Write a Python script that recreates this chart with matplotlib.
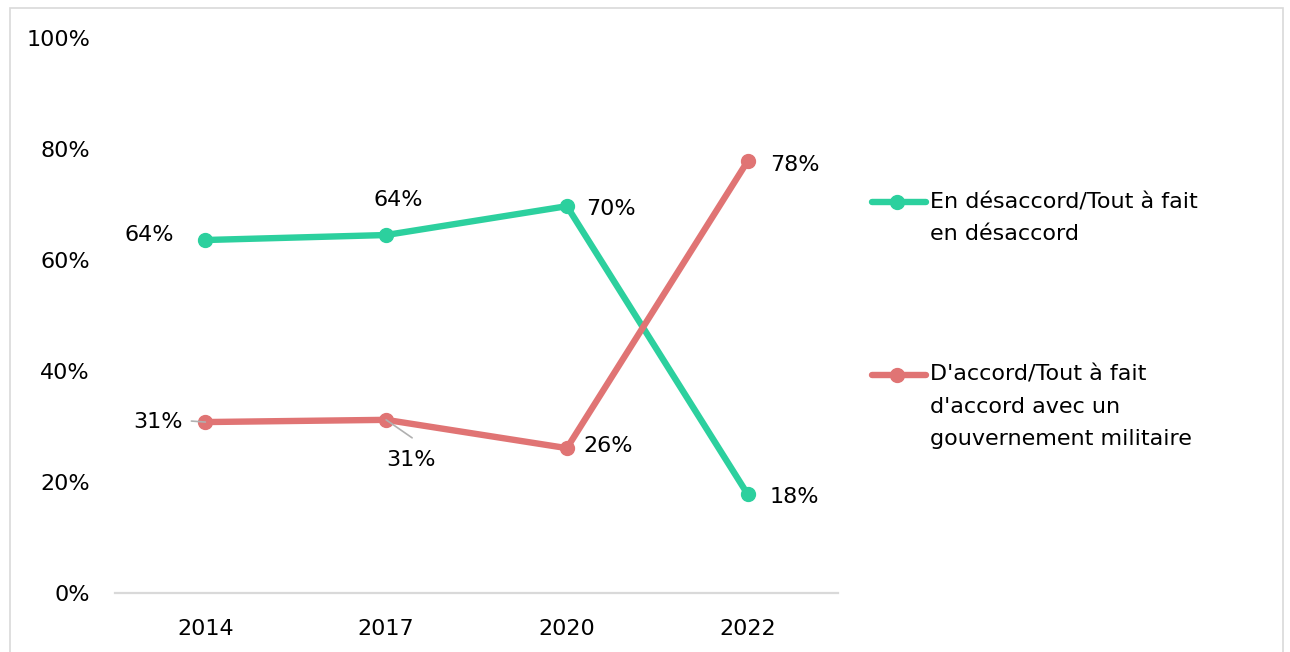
import matplotlib
matplotlib.use("Agg")
import matplotlib.pyplot as plt
from matplotlib.lines import Line2D
from matplotlib.patches import Rectangle

years = ["2014", "2017", "2020", "2022"]
desaccord = [63.6, 64.5, 69.7, 17.8]
accord = [30.8, 31.2, 26.1, 77.8]
desaccord_labels = ["64%", "64%", "70%", "18%"]
accord_labels = ["31%", "31%", "26%", "78%"]
legend_labels = ["En désaccord/Tout à fait\nen désaccord",
                 "D'accord/Tout à fait\nd'accord avec un\ngouvernement militaire"]

green = "#2cd09e"
red = "#e07474"
plt.rcParams['font.family'] = ['DejaVu Sans']

fig = plt.figure(figsize=(12.9, 6.52), dpi=100)
ax = fig.add_axes([115 / 1290, 1 - 593 / 652, 723 / 1290, 555 / 652])

x = list(range(len(years)))
ax.plot(x, desaccord, color=green, lw=4.6, marker="o", ms=10, solid_capstyle="round")
ax.plot(x, accord, color=red, lw=4.6, marker="o", ms=10, solid_capstyle="round")

ax.set_xlim(-0.5, 3.5)
ax.set_ylim(0, 100)
ax.set_yticks([0, 20, 40, 60, 80, 100])
ax.set_yticklabels([f"{v}%" for v in [0, 20, 40, 60, 80, 100]])
ax.set_xticks(x)
ax.set_xticklabels(years)
ax.tick_params(axis="both", length=0, labelsize=16, colors="black")
ax.tick_params(axis="y", pad=18)
ax.tick_params(axis="x", pad=19)
for s in ["top", "right", "left"]:
    ax.spines[s].set_visible(False)
ax.spines["bottom"].set_color("#d9d9d9")
ax.spines["bottom"].set_linewidth(1.6)

# data labels (offsets in pixels)
g_off = [(-56, 5), (12, 35), (44, -3), (47, -3)]
r_off = [(-47, 0), (25, -40), (41, 2), (47, -4)]
for i in x:
    ax.annotate(desaccord_labels[i], (i, desaccord[i]), xytext=g_off[i],
                textcoords="offset pixels", ha="center", va="center", fontsize=16)
    ax.annotate(accord_labels[i], (i, accord[i]), xytext=r_off[i],
                textcoords="offset pixels", ha="center", va="center", fontsize=16)

# leader lines for the two red labels near the points
ax.annotate("", (0, accord[0]), xytext=(-14, 1), textcoords="offset pixels",
            arrowprops=dict(arrowstyle="-", color="#b0b0b0", lw=1.2, shrinkA=0, shrinkB=0))
ax.annotate("", (1, accord[1]), xytext=(26, -18), textcoords="offset pixels",
            arrowprops=dict(arrowstyle="-", color="#b0b0b0", lw=1.2, shrinkA=0, shrinkB=0))

# legend drawn by hand
for color, label, yl in [(green, legend_labels[0], 202), (red, legend_labels[1], 375)]:
    yf = 1 - yl / 652
    fig.add_artist(Line2D([872 / 1290, 926 / 1290], [yf, yf], color=color, lw=4.6,
                          solid_capstyle="round", transform=fig.transFigure))
    fig.add_artist(Line2D([897 / 1290], [yf], color=color, marker="o", ms=10,
                          transform=fig.transFigure))
    fig.text(930 / 1290, yf + 10 / 652, label, fontsize=16, va="top", ha="left",
             linespacing=1.75)

# outer border
fig.add_artist(Rectangle((10 / 1290, -0.02), 1273 / 1290, 1 - 8 / 652 + 0.02,
                         transform=fig.transFigure, fill=False, edgecolor="#d9d9d9",
                         lw=1.2, clip_on=False))

fig.savefig("out.png", dpi=100)
